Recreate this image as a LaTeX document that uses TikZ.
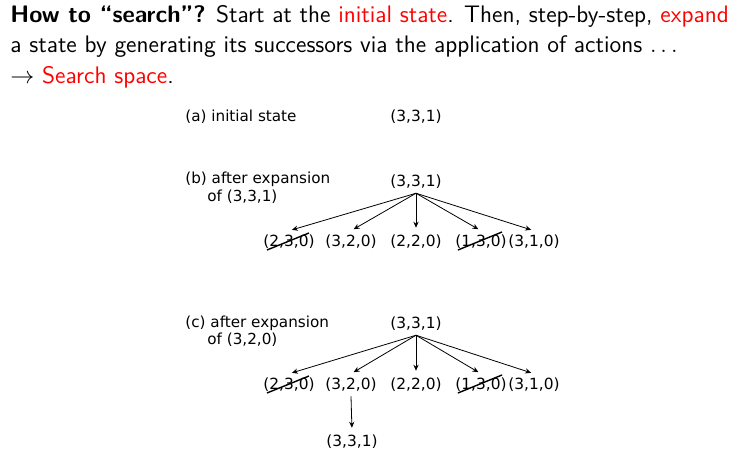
\documentclass[tikz,border=0pt]{standalone}
\usepackage{fontspec}
\newfontfamily\djv{DejaVu Sans}
\usetikzlibrary{arrows.meta}

\tikzset{
  hdr/.style={anchor=base west, inner sep=0pt, font=\sffamily\fontsize{11.95}{14}\selectfont},
  st/.style={inner sep=2pt, font=\djv\fontsize{7.7}{9}\selectfont},
  lbl/.style={anchor=west, inner sep=0pt, font=\djv\fontsize{7.6}{9}\selectfont},
  succ/.style={-{Stealth[length=3pt,width=2.6pt]}, line width=0.4pt, shorten >=1.5pt},
  strike/.style={line width=0.7pt}
}

\begin{document}
\begin{tikzpicture}[x=0.5pt, y=-0.5pt]
\useasboundingbox (0,0) rectangle (736,459);

% header
\node[hdr] (l1) at (10,23) {\textbf{How to ``search''?} Start at the \textcolor{red}{initial state}. Then, step-by-step, \textcolor{red}{expand}};
\node[hdr] (l2) at (10,53) {a state by generating its successors via the application of actions $\ldots$};
\node[hdr] (l3) at (10,84) {$\rightarrow$ \textcolor{red}{Search space}.};

% (a)
\node[lbl] (la) at (185,117) {(a) initial state};
\node[st] (a331) at (416,117) {(3,3,1)};

% (b)
\node[lbl] (lb1) at (185,179) {(b) after expansion};
\node[lbl] (lb2) at (207,197) {of (3,3,1)};
\node[st] (b331) at (416,182) {(3,3,1)};
\node[st] (b230) at (289,242) {(2,3,0)};
\node[st] (b320) at (351,242) {(3,2,0)};
\node[st] (b220) at (416,242) {(2,2,0)};
\node[st] (b130) at (481,242) {(1,3,0)};
\node[st] (b310) at (534,242) {(3,1,0)};

\draw[succ] (b331.south) -- (b230.north);
\draw[succ] (b331.south) -- (b320.north);
\draw[succ] (b331.south) -- (b220.north);
\draw[succ] (b331.south) -- (b130.north);
\draw[succ] (b331.south) -- (b310.north);
\draw[strike] ([shift={(-22,8)}]b230.center) -- ([shift={(20,-9)}]b230.center);
\draw[strike] ([shift={(-23,8)}]b130.center) -- ([shift={(21,-10)}]b130.center);

% (c)
\node[lbl] (lc1) at (185,323) {(c) after expansion};
\node[lbl] (lc2) at (207,340) {of (3,2,0)};
\node[st] (c331) at (416,324) {(3,3,1)};
\node[st] (c230) at (289,385) {(2,3,0)};
\node[st] (c320) at (351,385) {(3,2,0)};
\node[st] (c220) at (416,385) {(2,2,0)};
\node[st] (c130) at (481,385) {(1,3,0)};
\node[st] (c310) at (534,385) {(3,1,0)};
\node[st] (c331b) at (352,442) {(3,3,1)};

\draw[succ] (c331.south) -- (c230.north);
\draw[succ] (c331.south) -- (c320.north);
\draw[succ] (c331.south) -- (c220.north);
\draw[succ] (c331.south) -- (c130.north);
\draw[succ] (c331.south) -- (c310.north);
\draw[succ] (c320.south) -- (c331b.north);
\draw[strike] ([shift={(-22,8)}]c230.center) -- ([shift={(20,-9)}]c230.center);
\draw[strike] ([shift={(-23,8)}]c130.center) -- ([shift={(21,-10)}]c130.center);
\end{tikzpicture}
\end{document}
